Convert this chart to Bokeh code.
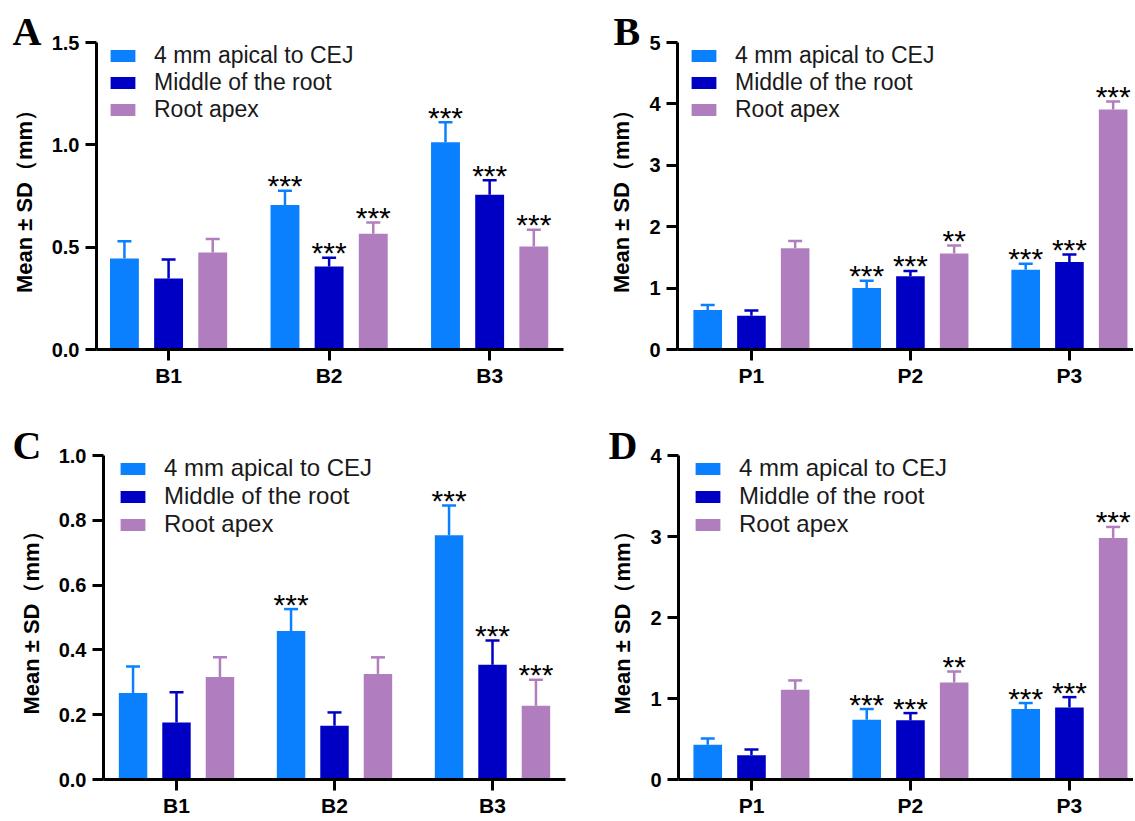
from bokeh.plotting import figure
from bokeh.models import (ColumnDataSource, Whisker, TeeHead, Legend, LegendItem,
                          FixedTicker, Range1d, NumeralTickFormatter)
from bokeh.layouts import column, row
from bokeh.embed import file_html
from bokeh.resources import INLINE
from bokeh.core.properties import value

series = ["4 mm apical to CEJ", "Middle of the root", "Root apex"]
colors = ["#0A80FF", "#0000C4", "#B07EBE"]

# ---- Panel A ----
a_cats = ["B1", "B2", "B3"]
a_cej = [0.445, 0.706, 1.013]
a_cej_sd = [0.084, 0.070, 0.097]
a_mid = [0.347, 0.405, 0.756]
a_mid_sd = [0.093, 0.043, 0.071]
a_apex = [0.474, 0.565, 0.503]
a_apex_sd = [0.066, 0.056, 0.082]
a_cej_sig = ["", "***", "***"]
a_mid_sig = ["", "***", "***"]
a_apex_sig = ["", "***", "***"]
a_yticks = [0, 0.5, 1.0, 1.5]

# ---- Panel B ----
b_cats = ["P1", "P2", "P3"]
b_cej = [0.645, 1.00, 1.30]
b_cej_sd = [0.081, 0.118, 0.098]
b_mid = [0.548, 1.194, 1.425]
b_mid_sd = [0.086, 0.086, 0.123]
b_apex = [1.65, 1.565, 3.91]
b_apex_sd = [0.119, 0.129, 0.13]
b_cej_sig = ["", "***", "***"]
b_mid_sig = ["", "***", "***"]
b_apex_sig = ["", "**", "***"]
b_yticks = [0, 1, 2, 3, 4, 5]

# ---- Panel C ----
c_cats = ["B1", "B2", "B3"]
c_cej = [0.267, 0.458, 0.754]
c_cej_sd = [0.082, 0.068, 0.092]
c_mid = [0.176, 0.166, 0.354]
c_mid_sd = [0.093, 0.041, 0.075]
c_apex = [0.316, 0.326, 0.228]
c_apex_sd = [0.061, 0.051, 0.080]
c_cej_sig = ["", "***", "***"]
c_mid_sig = ["", "", "***"]
c_apex_sig = ["", "", "***"]
c_yticks = [0, 0.2, 0.4, 0.6, 0.8, 1.0]

# ---- Panel D ----
d_cats = ["P1", "P2", "P3"]
d_cej = [0.43, 0.738, 0.87]
d_cej_sd = [0.075, 0.132, 0.074]
d_mid = [0.30, 0.73, 0.89]
d_mid_sd = [0.07, 0.09, 0.127]
d_apex = [1.108, 1.198, 2.983]
d_apex_sd = [0.115, 0.135, 0.135]
d_cej_sig = ["", "***", "***"]
d_mid_sig = ["", "***", "***"]
d_apex_sig = ["", "**", "***"]
d_yticks = [0, 1, 2, 3, 4]

OFFSETS = [-0.275, 0.0, 0.275]
BAR_W = 0.18
FONT = "Liberation Sans"


def make_panel(letter, cats, means, sds, sigs, yticks, yfmt, xr, size, borders,
               letter_dx, letter_standoff, legend_pos, legend_font):
    w, h = size
    bl, br, bt, bb = borders
    p = figure(width=w, height=h, output_backend="svg", toolbar_location=None,
               x_range=Range1d(*xr), y_range=Range1d(0, yticks[-1]),
               min_border_left=bl, min_border_right=br, min_border_top=bt,
               min_border_bottom=bb)
    p.outline_line_color = None
    p.xgrid.visible = False
    p.ygrid.visible = False
    p.background_fill_color = "white"
    p.border_fill_color = "white"

    items = []
    for i in range(3):
        xs = [j + OFFSETS[i] for j in range(len(cats))]
        up = [m + s for m, s in zip(means[i], sds[i])]
        src = ColumnDataSource(dict(x=xs, top=means[i], upper=up, sig=sigs[i]))
        r = p.vbar(x="x", top="top", width=BAR_W, source=src,
                   fill_color=colors[i], line_color=None)
        wh = Whisker(base="x", lower="top", upper="upper", source=src,
                     dimension="height", line_color=colors[i], line_width=2.5,
                     lower_head=None,
                     upper_head=TeeHead(size=14, line_color=colors[i], line_width=2.5))
        p.add_layout(wh)
        p.text(x="x", y="upper", text="sig", source=src,
               text_font=value(FONT), text_font_size="30px",
               text_align="center", text_baseline="alphabetic",
               y_offset=-5, text_color="black")
        items.append(LegendItem(label=series[i], renderers=[r]))

    leg = Legend(items=items, location=legend_pos, border_line_color=None,
                 background_fill_alpha=0, padding=0, margin=0, spacing=0,
                 glyph_width=31, glyph_height=15, label_standoff=16,
                 label_text_font=FONT, label_text_font_size=legend_font,
                 label_text_color="#1a1a1a")
    p.add_layout(leg)

    for ax in (p.xaxis[0], p.yaxis[0]):
        ax.axis_line_width = 3
        ax.axis_line_color = "black"
        ax.major_tick_line_width = 3
        ax.major_tick_line_color = "black"
        ax.major_tick_out = 11
        ax.major_tick_in = 0
        ax.minor_tick_line_color = None
        ax.major_label_text_font = FONT
        ax.major_label_text_font_style = "bold"
        ax.major_label_text_color = "black"

    p.xaxis.ticker = FixedTicker(ticks=list(range(len(cats))))
    p.xaxis.major_label_overrides = {j: c for j, c in enumerate(cats)}
    p.xaxis.major_label_text_font_size = "21px"
    p.xaxis.major_label_standoff = 3

    p.yaxis.ticker = FixedTicker(ticks=yticks)
    p.yaxis.formatter = NumeralTickFormatter(format=yfmt)
    p.yaxis.major_label_text_font_size = "20px"
    p.yaxis.major_label_standoff = 6
    p.yaxis.axis_label = "Mean ± SD（mm）"
    p.yaxis.axis_label_text_font = FONT
    p.yaxis.axis_label_text_font_style = "bold"
    p.yaxis.axis_label_text_font_size = "22px"
    p.yaxis.axis_label_text_color = "black"
    p.yaxis.axis_label_standoff = 12

    # panel letter as the figure title, pulled left over the axis area
    t = p.title
    t.text = letter
    t.align = "left"
    t.vertical_align = "bottom"
    t.text_font = "Liberation Serif"
    t.text_font_style = "bold"
    t.text_font_size = "40px"
    t.text_color = "black"
    t.offset = letter_dx
    try:
        t.standoff = letter_standoff
    except Exception:
        t.standoff = 0
    return p


pA = make_panel("A", a_cats, [a_cej, a_mid, a_apex], [a_cej_sd, a_mid_sd, a_apex_sd],
                [a_cej_sig, a_mid_sig, a_apex_sig], a_yticks, "0.0",
                (-0.449, 2.46), (570, 405), (96, 7, 42, 56),
                -84, -23, (11, 226), "23px")
pB = make_panel("B", b_cats, [b_cej, b_mid, b_apex], [b_cej_sd, b_mid_sd, b_apex_sd],
                [b_cej_sig, b_mid_sig, b_apex_sig], b_yticks, "0",
                (-0.465, 2.403), (563, 405), (107, 0, 42, 56),
                -64, -23, (11, 226), "23px")
pC = make_panel("C", c_cats, [c_cej, c_mid, c_apex], [c_cej_sd, c_mid_sd, c_apex_sd],
                [c_cej_sig, c_mid_sig, c_apex_sig], c_yticks, "0.0",
                (-0.462, 2.462), (570, 414), (103, 5, 50, 39),
                -91, -25, (14, 241), "24px")
pD = make_panel("D", d_cats, [d_cej, d_mid, d_apex], [d_cej_sd, d_mid_sd, d_apex_sd],
                [d_cej_sig, d_mid_sig, d_apex_sig], d_yticks, "0",
                (-0.459, 2.403), (563, 414), (108, 0, 50, 39),
                -70, -25, (14, 241), "24px")

layout = column(row(pA, pB), row(pC, pD))
open("out.html", "w").write(file_html(layout, INLINE))
